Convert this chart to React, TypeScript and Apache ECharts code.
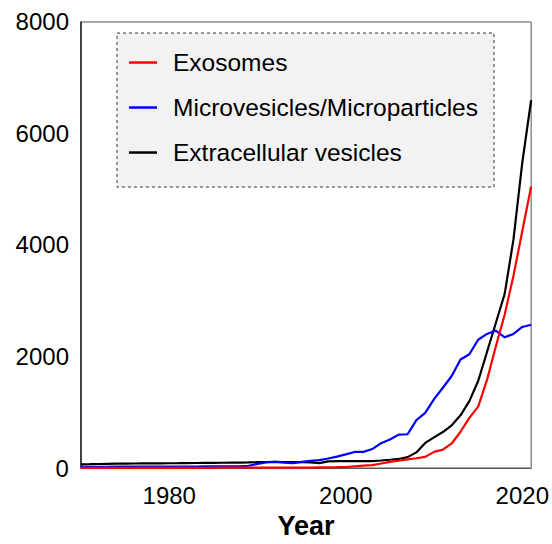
import React, { useEffect, useRef } from "react";
import * as echarts from "echarts";

const years: number[] = [];
for (let y = 1970; y <= 2021; y++) years.push(y);

const exosomes = [
  3, 3, 3, 3, 3, 3, 3, 3, 3, 3,
  3, 3, 3, 3, 3, 3, 5, 5, 5, 5,
  5, 5, 5, 5, 5, 5, 8, 10, 12, 14,
  18, 30, 42, 53, 80, 110, 130, 155, 175, 200,
  290, 330, 440, 650, 900, 1100, 1580, 2180, 2750, 3450,
  4250, 5050,
];

const microvesicles = [
  20, 21, 22, 22, 23, 23, 24, 24, 25, 25,
  26, 26, 27, 27, 28, 28, 28, 28, 30, 40,
  75, 100, 110, 95, 85, 110, 128, 142, 170, 205,
  245, 288, 290, 340, 445, 510, 598, 605, 860, 990,
  1235, 1440, 1650, 1945, 2040, 2300, 2405, 2465, 2345, 2405,
  2530, 2570,
];

const extracellular = [
  65, 68, 72, 75, 78, 80, 81, 82, 83, 84,
  85, 86, 88, 90, 91, 92, 94, 96, 98, 100,
  104, 108, 110, 108, 104, 106, 100, 88, 118, 122,
  124, 125, 126, 124, 135, 148, 162, 195, 280, 450,
  550, 645, 765, 945, 1200, 1560, 2080, 2600, 3120, 4100,
  5480, 6600,
];

const seriesNames = ["Exosomes", "Microvesicles/Microparticles", "Extracellular vesicles"];
const seriesColors = ["#ff0000", "#0000ff", "#000000"];
const yTicks = [0, 2000, 4000, 6000, 8000];

const FONT = "'Liberation Sans', Arial, sans-serif";

export default function App() {
  const ref = useRef<HTMLDivElement>(null);
  useEffect(() => {
    if (!ref.current) return;
    const chart = echarts.init(ref.current, undefined, { renderer: "svg" });
    const all = [exosomes, microvesicles, extracellular];
    chart.setOption({
      animation: false,
      grid: {
        left: "14.67%",
        right: "3.44%",
        top: "4.04%",
        bottom: "13.05%",
        show: true,
        borderColor: "#555",
        borderWidth: 1,
        backgroundColor: "transparent",
      },
      legend: {
        left: "21.2%",
        top: "6.07%",
        orient: "vertical",
        data: seriesNames,
        icon: "rect",
        itemWidth: 28,
        itemHeight: 2.5,
        itemGap: 20,
        backgroundColor: "#f2f2f2",
        borderColor: "#333",
        borderWidth: 1,
        borderType: [3, 3],
        borderRadius: 0,
        padding: [17, 16, 22, 12],
        textStyle: {
          fontFamily: FONT,
          fontSize: 24.5,
          color: "#000",
          padding: [0, 0, 0, 11],
        },
      },
      xAxis: {
        type: "value",
        min: 1970,
        max: 2021,
        interval: 10,
        name: "Year",
        nameLocation: "middle",
        nameGap: 44,
        nameTextStyle: { fontFamily: FONT, fontSize: 27, fontWeight: "bold", color: "#000" },
        axisLine: { show: true, lineStyle: { color: "#555", width: 1 } },
        axisTick: { show: false },
        splitLine: { show: false },
        axisLabel: {
          fontFamily: FONT,
          fontSize: 24,
          color: "#000",
          margin: 15,
          formatter: (v: number) => (v % 20 === 0 ? String(v) : ""),
        },
      },
      yAxis: {
        type: "value",
        min: yTicks[0],
        max: yTicks[yTicks.length - 1],
        interval: 2000,
        axisLine: { show: true, lineStyle: { color: "#222", width: 1.5 } },
        axisTick: { show: false },
        splitLine: { show: false },
        axisLabel: {
          fontFamily: FONT,
          fontSize: 24,
          color: "#000",
          margin: 12,
          formatter: (v: number) => String(v),
        },
      },
      series: seriesNames.map((name, i) => ({
        name,
        type: "line",
        data: years.map((y, j) => [y, all[i][j]]),
        showSymbol: false,
        symbol: "none",
        lineStyle: { color: seriesColors[i], width: 2.2 },
        itemStyle: { color: seriesColors[i] },
        z: 3 - i,
      })),
    });
    return () => chart.dispose();
  }, []);
  return (
    <div
      ref={ref}
      style={{ position: "fixed", left: 0, top: 0, width: "100vw", height: "100vh", background: "#fff" }}
    />
  );
}
